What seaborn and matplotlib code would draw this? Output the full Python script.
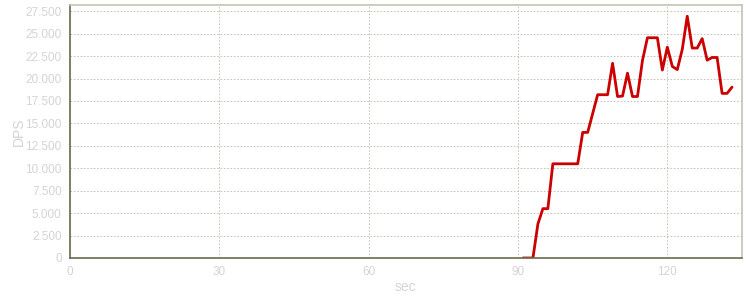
import matplotlib
matplotlib.use("Agg")
import matplotlib.pyplot as plt
import seaborn as sns
import pandas as pd

sec = [91, 92, 93, 94, 95, 96, 97, 98, 99, 100, 101, 102, 103, 104, 105, 106, 107, 108,
       109, 110, 111, 112, 113, 114, 115, 116, 117, 118, 119, 120, 121, 122, 123, 124,
       125, 126, 127, 128, 129, 130, 131, 132, 133]
dps = [0, 0, 0, 3800, 5500, 5500, 10500, 10500, 10500, 10500, 10500, 10500, 14000, 14000,
       16100, 18200, 18200, 18200, 21700, 18000, 18050, 20600, 18000, 18000, 22000, 24550,
       24550, 24550, 20950, 23500, 21350, 21000, 23250, 26950, 23400, 23400, 24450, 22050,
       22350, 22350, 18350, 18350, 19050]
xticks = [0, 30, 60, 90, 120]
yticks = [0, 2500, 5000, 7500, 10000, 12500, 15000, 17500, 20000, 22500, 25000, 27500]
ytick_labels = ["0", "2.500", "5.000", "7.500", "10.000", "12.500", "15.000", "17.500",
                "20.000", "22.500", "25.000", "27.500"]

sns.set_style("white")
plt.rcParams['font.family'] = ['Liberation Sans', 'DejaVu Sans']

fig = plt.figure(figsize=(7.5, 3), dpi=100)
ax = fig.add_axes([70/750, 42/300, 672/750, 253/300])

df = pd.DataFrame({"sec": sec, "DPS": dps})
sns.lineplot(data=df, x="sec", y="DPS", ax=ax, color="#cc0000", linewidth=2.0)

ax.set_xlim(0, 135)
ax.set_ylim(0, 28200)
ax.set_xticks(xticks)
ax.set_xticklabels([str(t) for t in xticks])
ax.set_yticks(yticks)
ax.set_yticklabels(ytick_labels)

label_color = "#d4d4d4"
ax.tick_params(axis="both", colors="#6b6b50", labelcolor=label_color, labelsize=8.5,
               length=3, width=1, direction="out", pad=3)
ax.set_xlabel("sec", color=label_color, fontsize=10)
ax.set_ylabel("DPS", color=label_color, fontsize=10)
ax.xaxis.set_label_coords(335/672, -22/253)
ax.yaxis.set_label_coords(-44/672, 0.5)

ax.grid(True, color="#bcbcac", linestyle=(0, (2, 2)), linewidth=0.6)
ax.set_axisbelow(True)

for side in ["left", "bottom"]:
    ax.spines[side].set_color("#6b6b50")
    ax.spines[side].set_linewidth(1.2)
for side in ["top", "right"]:
    ax.spines[side].set_visible(True)
    ax.spines[side].set_color("#c4c4b4")
    ax.spines[side].set_linewidth(1.2)

fig.savefig("out.png", dpi=100, facecolor="white")
